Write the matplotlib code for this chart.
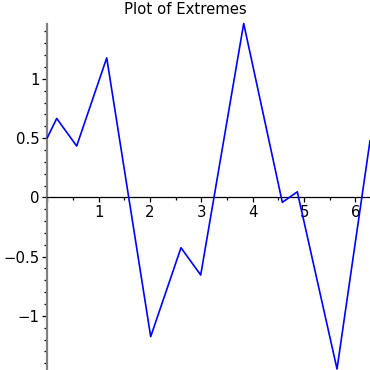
import numpy as np
import matplotlib
matplotlib.use("Agg")
import matplotlib.pyplot as plt
from matplotlib.ticker import MultipleLocator, FuncFormatter

# data
x_vals = [0.0, 0.183, 0.572, 1.157, 2.013, 2.603, 2.987, 3.824, 4.576, 4.868, 5.641, 2 * np.pi]
y_vals = [0.503, 0.666, 0.433, 1.177, -1.175, -0.425, -0.655, 1.467, -0.042, 0.047, -1.448, 0.477]
title = "Plot of Extremes"

fig = plt.figure(figsize=(3.7, 3.7), dpi=100)
W = H = 370.0
ax = fig.add_axes([47.3 / W, 1.0 / H, (370 - 47.3) / W, (369 - 23.5) / H])
ax.plot(x_vals, y_vals, color="blue", lw=1.2, clip_on=False, zorder=3)
ax.set_xlim(0, 2 * np.pi)
ax.set_ylim(min(y_vals), max(y_vals))

for s in ["top", "right"]:
    ax.spines[s].set_visible(False)
ax.spines["bottom"].set_position(("data", 0))
ax.spines["bottom"].set_color("black")
ax.spines["bottom"].set_linewidth(0.9)
ax.spines["left"].set_position(("data", 0))
ax.spines["left"].set_color("gray")
ax.spines["left"].set_linewidth(1.6)

ax.xaxis.set_major_locator(MultipleLocator(1))
ax.xaxis.set_minor_locator(MultipleLocator(0.5))
ax.yaxis.set_major_locator(MultipleLocator(0.5))
ax.yaxis.set_minor_locator(MultipleLocator(0.1))

def xfmt(v, pos):
    if abs(v) < 1e-9:
        return ""
    return ("%g" % v).replace("-", "\u2212")

def yfmt(v, pos):
    if abs(v) < 1e-9:
        return "0"
    return ("%g" % v).replace("-", "\u2212")

ax.xaxis.set_major_formatter(FuncFormatter(xfmt))
ax.yaxis.set_major_formatter(FuncFormatter(yfmt))
ax.tick_params(which="major", direction="out", length=3.5, width=0.9, labelsize=10.7, color="black", pad=2)
ax.tick_params(which="minor", direction="out", length=2, width=0.9, color="black")

fig.text(0.5, 1 - 13.5 / H, title, ha="center", va="baseline", fontsize=10.7)
fig.savefig("out.png", dpi=100)
